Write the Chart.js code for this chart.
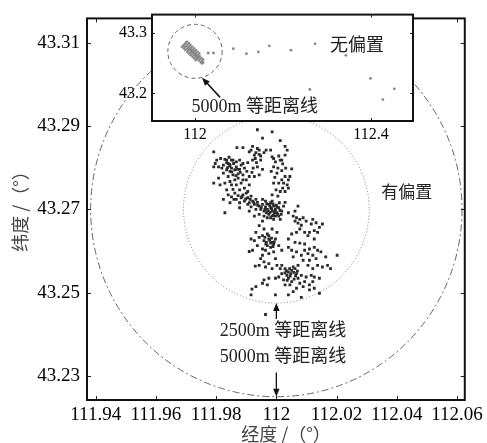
<!DOCTYPE html>
<html>
<head>
<meta charset="utf-8">
<script src="https://cdn.jsdelivr.net/npm/chart.js@4.4.0/dist/chart.umd.min.js"></script>
<style>
html, body { margin: 0; padding: 0; background: #fff; }
#wrap { position: relative; width: 487px; height: 443px; }
#main { position: absolute; left: 0; top: 0; }
#inset { position: absolute; left: 105px; top: 0; }
</style>
</head>
<body>
<div id="wrap">
  <canvas id="main" width="487" height="443"></canvas>
  <canvas id="inset" width="315" height="145"></canvas>
</div>
<script>
// tick labels
var xTickLabels = ['111.94', '111.96', '111.98', '112', '112.02', '112.04', '112.06'];
var yTickLabels = ['43.23', '43.25', '43.27', '43.29', '43.31'];
var insetXTickLabels = ['112', '112.4'];
var insetYTickLabels = ['43.2', '43.3'];

// ring centre (lon, lat) and radii in metres
var ringCenter = [112.0, 43.27];
var ringMeters = [2500, 5000];
var M_PER_DEG = 111320;

// located sources with bias correction (lon, lat)
var biasedHits = [
  [111.9937,43.2891],[111.9986,43.2886],[111.9954,43.2871],[112.0013,43.2865],[111.9889,43.2848],[111.9869,43.2848],
  [112.0029,43.2851],[112.0036,43.2842],[111.9921,43.2851],[111.9792,43.2838],[111.9910,43.2838],[111.9943,43.2842],
  [111.9959,43.2836],[111.9981,43.2842],[111.9927,43.2830],[111.9948,43.2828],[111.9991,43.2822],[112.0008,43.2828],
  [112.0029,43.2830],[112.0018,43.2818],[111.9932,43.2836],[111.9966,43.2842],
  [111.9802,43.2818],[111.9815,43.2822],[111.9829,43.2820],[111.9843,43.2825],[111.9851,43.2818],[111.9835,43.2812],
  [111.9824,43.2806],[111.9808,43.2802],[111.9792,43.2802],[111.9846,43.2804],[111.9858,43.2810],[111.9867,43.2814],
  [111.9878,43.2818],[111.9889,43.2810],[111.9905,43.2812],[111.9894,43.2799],[111.9878,43.2796],[111.9862,43.2795],
  [111.9846,43.2791],[111.9835,43.2795],[111.9824,43.2787],[111.9840,43.2779],[111.9856,43.2783],[111.9873,43.2785],
  [111.9889,43.2783],[111.9902,43.2791],[111.9910,43.2779],[111.9919,43.2789],[111.9862,43.2771],[111.9846,43.2767],
  [111.9829,43.2763],[111.9867,43.2759],[111.9883,43.2763],[111.9900,43.2771],[111.9910,43.2759],[111.9894,43.2751],
  [111.9878,43.2747],[111.9856,43.2748],[111.9792,43.2763],[111.9813,43.2759],[111.9808,43.2775],[111.9835,43.2747],
  [111.9819,43.2799],[111.9851,43.2799],[111.9867,43.2802],[111.9883,43.2806],[111.9840,43.2810],[111.9856,43.2818],
  [111.9873,43.2775],[111.9889,43.2771],[111.9851,43.2759],[111.9835,43.2818],[111.9797,43.2810],[111.9905,43.2743],
  [111.9838,43.2800],[111.9852,43.2790],[111.9866,43.2781],[111.9880,43.2789],[111.9845,43.2808],[111.9871,43.2796],
  [111.9916,43.2842],[111.9937,43.2846],[111.9943,43.2832],[111.9921,43.2818],[111.9934,43.2812],[111.9948,43.2818],
  [111.9937,43.2802],[111.9923,43.2799],[111.9954,43.2796],[111.9927,43.2779],[111.9943,43.2783],[111.9930,43.2822],
  [111.9986,43.2826],[111.9997,43.2814],[112.0013,43.2818],[112.0021,43.2809],[111.9991,43.2802],[112.0005,43.2799],
  [112.0018,43.2793],[112.0031,43.2799],[112.0051,43.2797],[112.0002,43.2787],[111.9995,43.2777],[112.0029,43.2779],
  [112.0018,43.2771],[112.0008,43.2763],[112.0040,43.2771],[112.0036,43.2759],[112.0021,43.2751],[111.9991,43.2763],
  [111.9999,43.2747],[112.0013,43.2743],[112.0029,43.2743],[112.0005,43.2732],[112.0040,43.2751],[111.9986,43.2735],
  [112.0024,43.2763],[112.0045,43.2779],[111.9983,43.2791],
  [111.9840,43.2735],[111.9851,43.2730],[111.9862,43.2739],[111.9873,43.2733],[111.9867,43.2724],[111.9883,43.2728],
  [111.9889,43.2735],[111.9900,43.2739],[111.9894,43.2720],[111.9905,43.2728],[111.9916,43.2732],[111.9910,43.2716],
  [111.9921,43.2720],[111.9927,43.2712],[111.9937,43.2717],[111.9943,43.2708],[111.9932,43.2700],[111.9948,43.2700],
  [111.9954,43.2712],[111.9964,43.2706],[111.9959,43.2696],[111.9970,43.2700],[111.9975,43.2712],[111.9981,43.2704],
  [111.9986,43.2696],[111.9991,43.2708],[111.9997,43.2700],[112.0002,43.2692],[112.0008,43.2704],[111.9975,43.2688],
  [111.9986,43.2684],[111.9970,43.2680],[111.9991,43.2676],[112.0008,43.2684],[112.0018,43.2696],[112.0024,43.2708],
  [112.0029,43.2717],[111.9964,43.2720],[111.9846,43.2716],[111.9829,43.2692],[111.9878,43.2704],[111.9910,43.2696],
  [111.9927,43.2684],[111.9943,43.2688],[111.9981,43.2716],[111.9994,43.2692],[111.9984,43.2702],[111.9967,43.2692],
  [112.0002,43.2706],[111.9905,43.2712],[111.9954,43.2724],[111.9932,43.2724],[111.9878,43.2716],[111.9859,43.2724],
  [111.9981,43.2680],[112.0013,43.2676],[111.9997,43.2684],[111.9959,43.2684],[111.9916,43.2706],[111.9824,43.2724],
  [111.9968,43.2714],[111.9978,43.2709],[111.9989,43.2713],[112.0000,43.2710],[112.0012,43.2698],[111.9995,43.2697],
  [111.9979,43.2693],[112.0004,43.2688],[111.9990,43.2686],[112.0016,43.2688],[111.9962,43.2700],[111.9973,43.2696],
  [112.0010,43.2716],[111.9986,43.2720],[111.9886,43.2731],[111.9898,43.2725],[111.9913,43.2724],[111.9925,43.2716],
  [111.9938,43.2710],[111.9950,43.2705],
  [112.0072,43.2708],[112.0040,43.2692],[112.0056,43.2684],[112.0067,43.2680],[112.0078,43.2676],[112.0062,43.2672],
  [112.0072,43.2667],[112.0083,43.2662],[112.0099,43.2672],[112.0116,43.2665],[112.0132,43.2668],[112.0153,43.2665],
  [112.0143,43.2657],[112.0126,43.2649],[112.0110,43.2645],[112.0094,43.2645],[112.0078,43.2653],[112.0067,43.2645],
  [112.0051,43.2641],[112.0105,43.2637],[112.0126,43.2629],[112.0089,43.2680],[112.0137,43.2645],[112.0121,43.2676],
  [112.0062,43.2696],
  [111.9954,43.2672],[111.9943,43.2661],[111.9959,43.2653],[111.9932,43.2645],[111.9970,43.2641],[111.9954,43.2637],
  [111.9916,43.2629],[111.9927,43.2625],[111.9943,43.2633],[111.9959,43.2625],[111.9975,43.2629],[111.9986,43.2621],
  [111.9970,43.2613],[111.9981,43.2609],[111.9991,43.2617],[111.9964,43.2602],[111.9954,43.2605],[111.9937,43.2613],
  [111.9921,43.2602],[111.9910,43.2599],[111.9975,43.2594],[111.9991,43.2598],[111.9997,43.2582],[111.9954,43.2590],
  [111.9981,43.2619],[111.9967,43.2621],[111.9975,43.2637],[111.9997,43.2629],[112.0002,43.2645],[111.9986,43.2653],
  [112.0008,43.2613],[112.0018,43.2602],[111.9962,43.2633],[111.9978,43.2626],[111.9989,43.2611],[111.9965,43.2617],
  [111.9984,43.2631],[111.9993,43.2622],
  [112.0062,43.2621],[112.0078,43.2619],[112.0094,43.2617],[112.0110,43.2605],[112.0126,43.2609],[112.0137,43.2602],
  [112.0148,43.2598],[112.0121,43.2590],[112.0105,43.2594],[112.0083,43.2590],[112.0067,43.2598],[112.0051,43.2602],
  [112.0040,43.2609],[112.0164,43.2586],[112.0202,43.2590],[112.0132,43.2582],[112.0110,43.2578],[112.0089,43.2578],
  [112.0072,43.2566],[112.0105,43.2566],[112.0121,43.2558],[112.0137,43.2566],[112.0153,43.2562],[112.0180,43.2558],
  [112.0170,43.2566],[112.0040,43.2629],[112.0056,43.2586],[112.0094,43.2602],
  [111.9948,43.2582],[111.9959,43.2574],[111.9943,43.2566],[111.9930,43.2564],[111.9964,43.2562],[111.9975,43.2570],
  [111.9986,43.2558],[112.0002,43.2566],[112.0018,43.2566],[112.0029,43.2558],[112.0040,43.2550],[112.0051,43.2554],
  [112.0056,43.2562],[112.0067,43.2546],[112.0035,43.2542],[112.0018,43.2546],[112.0008,43.2538],[112.0024,43.2531],
  [112.0040,43.2535],[112.0051,43.2527],[112.0072,43.2535],[112.0083,43.2542],[112.0099,43.2538],[112.0116,43.2542],
  [112.0126,43.2538],[112.0143,43.2535],[112.0094,43.2527],[112.0110,43.2519],[112.0089,43.2515],[112.0067,43.2511],
  [112.0056,43.2503],[112.0045,43.2519],[112.0029,43.2519],[111.9997,43.2535],[111.9975,43.2535],[111.9959,43.2531],
  [111.9954,43.2523],[111.9970,43.2519],[111.9932,43.2515],[111.9919,43.2509],[111.9916,43.2495],[111.9997,43.2495],
  [112.0040,43.2495],[112.0083,43.2489],[112.0110,43.2507],[112.0126,43.2511],[112.0143,43.2499],[111.9964,43.2448],
  [112.0048,43.2546],[112.0029,43.2548],[112.0062,43.2558],[112.0013,43.2558],[112.0078,43.2523],[112.0121,43.2527],
  [112.0033,43.2553],[112.0044,43.2558],[112.0058,43.2549],[112.0064,43.2541],[112.0046,43.2540],[112.0036,43.2530],
  [112.0059,43.2533],[112.0070,43.2552]
];

// located sources without bias correction (inset)
var unbiasedHits = [
  [111.9700,43.2776],[111.9731,43.2799],[111.9762,43.2818],[111.9789,43.2843],[111.9818,43.2862],
  [111.9742,43.2750],[111.9769,43.2771],[111.9803,43.2790],[111.9830,43.2815],[111.9861,43.2835],
  [111.9779,43.2722],[111.9811,43.2741],[111.9838,43.2766],[111.9872,43.2785],[111.9899,43.2809],
  [111.9821,43.2691],[111.9849,43.2715],[111.9882,43.2733],[111.9909,43.2759],[111.9941,43.2779],
  [111.9858,43.2665],[111.9891,43.2685],[111.9918,43.2710],[111.9951,43.2729],[111.9980,43.2753],
  [111.9901,43.2635],[111.9928,43.2659],[111.9962,43.2678],[111.9990,43.2703],[112.0019,43.2723],
  [111.9941,43.2609],[111.9970,43.2630],[112.0002,43.2650],[112.0029,43.2675],[112.0061,43.2695],
  [111.9979,43.2581],[112.0010,43.2601],[112.0038,43.2626],[112.0071,43.2645],[112.0099,43.2668],
  [112.0022,43.2551],[112.0049,43.2575],[112.0082,43.2594],[112.0110,43.2619],
  [112.0090,43.2546],[112.0118,43.2570],[112.0151,43.2589],
  [112.0131,43.2519],[112.0162,43.2538],[112.0189,43.2563],
  [112.0192,43.2516],[112.0160,43.2498],
  [111.9850,43.2748],[111.9905,43.2722],[111.9940,43.2696],[111.9985,43.2665],[112.0020,43.2640],[112.0060,43.2610]
];
var unbiasedOutliers = [
  [112.030,43.2672],[112.042,43.2672],[112.087,43.2743],[112.117,43.2660],[112.144,43.2690],[112.169,43.2790],
  [112.218,43.2720],[112.273,43.2825],[112.343,43.2634],[112.399,43.2250],[112.261,43.2066],[112.427,43.1897],
  [112.453,43.2077]
];

var SERIF = '"Liberation Serif", "Noto Sans CJK SC", serif';
var CJK = '"Noto Sans CJK SC", sans-serif';
Chart.defaults.font.family = SERIF;

function toXY(list) {
  return list.map(function (p) { return { x: p[0], y: p[1] }; });
}

function drawRing(ctx, x, y, meters, dash, color, width) {
  var dLat = meters / M_PER_DEG;
  var dLon = dLat / Math.cos(ringCenter[1] * Math.PI / 180);
  var cx = x.getPixelForValue(ringCenter[0]);
  var cy = y.getPixelForValue(ringCenter[1]);
  var rx = x.getPixelForValue(ringCenter[0] + dLon) - cx;
  var ry = cy - y.getPixelForValue(ringCenter[1] + dLat);
  ctx.save();
  ctx.strokeStyle = color;
  ctx.lineWidth = width;
  ctx.setLineDash(dash);
  ctx.beginPath();
  ctx.ellipse(cx, cy, rx, ry, 0, 0, 2 * Math.PI);
  ctx.stroke();
  ctx.restore();
}

function arrow(ctx, x0, y0, x1, y1, head) {
  var a = Math.atan2(y1 - y0, x1 - x0);
  var c = Math.cos(a), s = Math.sin(a);
  ctx.beginPath();
  ctx.moveTo(x0, y0);
  ctx.lineTo(x1 - c * head * 0.7, y1 - s * head * 0.7);
  ctx.stroke();
  ctx.beginPath();
  ctx.moveTo(x1, y1);
  ctx.lineTo(x1 - head * c + head * 0.4 * s, y1 - head * s - head * 0.4 * c);
  ctx.lineTo(x1 - head * c - head * 0.4 * s, y1 - head * s + head * 0.4 * c);
  ctx.closePath();
  ctx.fill();
}

function inwardTicks(ctx, chart, xVals, yVals, len) {
  var a = chart.chartArea, x = chart.scales.x, y = chart.scales.y;
  ctx.save();
  ctx.strokeStyle = '#222';
  ctx.lineWidth = 1;
  ctx.beginPath();
  xVals.forEach(function (v) {
    var px = Math.round(x.getPixelForValue(v)) + 0.5;
    ctx.moveTo(px, a.bottom); ctx.lineTo(px, a.bottom - len);
    ctx.moveTo(px, a.top); ctx.lineTo(px, a.top + len);
  });
  yVals.forEach(function (v) {
    var py = Math.round(y.getPixelForValue(v)) + 0.5;
    ctx.moveTo(a.left, py); ctx.lineTo(a.left + len, py);
    ctx.moveTo(a.right, py); ctx.lineTo(a.right - len, py);
  });
  ctx.stroke();
  ctx.restore();
}

var xTickVals = xTickLabels.map(parseFloat);
var yTickVals = yTickLabels.map(parseFloat);
var insetXTickVals = insetXTickLabels.map(parseFloat);
var insetYTickVals = insetYTickLabels.map(parseFloat);

var mainDecor = {
  id: 'mainDecor',
  beforeDatasetsDraw: function (chart) {
    var ctx = chart.ctx, a = chart.chartArea;
    ctx.save();
    ctx.beginPath();
    ctx.rect(a.left, a.top, a.right - a.left, a.bottom - a.top);
    ctx.clip();
    drawRing(ctx, chart.scales.x, chart.scales.y, ringMeters[0], [1, 2.2], '#777', 1);
    drawRing(ctx, chart.scales.x, chart.scales.y, ringMeters[1], [7, 3, 2, 3], '#555', 0.9);
    ctx.restore();
  },
  afterDraw: function (chart) {
    var ctx = chart.ctx, a = chart.chartArea, x = chart.scales.x, y = chart.scales.y;
    inwardTicks(ctx, chart, xTickVals, yTickVals, 4);
    ctx.save();
    ctx.strokeStyle = '#111';
    ctx.lineWidth = 2;
    ctx.strokeRect(a.left, a.top, a.right - a.left, a.bottom - a.top);

    ctx.fillStyle = '#222';
    ctx.textAlign = 'center';
    ctx.textBaseline = 'middle';
    ctx.font = '17px ' + CJK;
    ctx.fillText('有偏置', x.getPixelForValue(112.0433), y.getPixelForValue(43.2742));
    ctx.font = '18px ' + SERIF;
    ctx.fillText('2500m 等距离线', x.getPixelForValue(112.0022), y.getPixelForValue(43.2409));
    ctx.fillText('5000m 等距离线', x.getPixelForValue(112.0022), y.getPixelForValue(43.2345));

    // arrows to the rings
    ctx.strokeStyle = '#111';
    ctx.fillStyle = '#111';
    ctx.lineWidth = 1.3;
    var ax = x.getPixelForValue(ringCenter[0]);
    arrow(ctx, ax, y.getPixelForValue(43.2437), ax, y.getPixelForValue(ringCenter[1] - ringMeters[0] / M_PER_DEG), 8);
    arrow(ctx, ax, y.getPixelForValue(43.2309), ax, y.getPixelForValue(ringCenter[1] - ringMeters[1] / M_PER_DEG), 8);

    // axis titles
    ctx.fillStyle = '#444';
    ctx.font = '18px ' + CJK;
    ctx.fillText('经度 /（°）', 286, 434);
    ctx.translate(20, 207);
    ctx.rotate(-Math.PI / 2);
    ctx.fillText('纬度 /（°）', 0, 0);
    ctx.restore();
  }
};

var insetDecor = {
  id: 'insetDecor',
  beforeDraw: function (chart) {
    var ctx = chart.ctx, a = chart.chartArea;
    ctx.save();
    ctx.fillStyle = '#fff';
    ctx.fillRect(a.left, a.top, a.right - a.left, a.bottom - a.top);
    ctx.restore();
  },
  beforeDatasetsDraw: function (chart) {
    var ctx = chart.ctx, a = chart.chartArea;
    ctx.save();
    ctx.beginPath();
    ctx.rect(a.left, a.top, a.right - a.left, a.bottom - a.top);
    ctx.clip();
    drawRing(ctx, chart.scales.x, chart.scales.y, ringMeters[1], [4, 3], '#555', 0.9);
    ctx.restore();
  },
  afterDraw: function (chart) {
    var ctx = chart.ctx, a = chart.chartArea, x = chart.scales.x, y = chart.scales.y;
    inwardTicks(ctx, chart, insetXTickVals, insetYTickVals, 3);
    ctx.save();
    ctx.strokeStyle = '#111';
    ctx.lineWidth = 2;
    ctx.strokeRect(a.left, a.top, a.right - a.left, a.bottom - a.top);
    ctx.fillStyle = '#222';
    ctx.textAlign = 'center';
    ctx.textBaseline = 'middle';
    ctx.font = '18px ' + CJK;
    ctx.fillText('无偏置', x.getPixelForValue(112.368), y.getPixelForValue(43.282));
    ctx.font = '18px ' + SERIF;
    ctx.fillText('5000m 等距离线', x.getPixelForValue(112.136), y.getPixelForValue(43.177));
    ctx.strokeStyle = '#111';
    ctx.fillStyle = '#111';
    ctx.lineWidth = 1.5;
    arrow(ctx, x.getPixelForValue(112.057), y.getPixelForValue(43.1934),
          x.getPixelForValue(112.016), y.getPixelForValue(43.2262), 8);
    ctx.restore();
  }
};

function tickSetter(vals) {
  return function (scale) {
    scale.ticks = vals.map(function (v) { return { value: v }; });
  };
}

new Chart(document.getElementById('main').getContext('2d'), {
  type: 'scatter',
  data: {
    datasets: [{
      data: toXY(biasedHits),
      pointStyle: 'rect',
      pointRadius: 2,
      backgroundColor: '#2b2b2b',
      borderWidth: 0
    }]
  },
  options: {
    responsive: false,
    devicePixelRatio: 1,
    animation: false,
    events: [],
    layout: { padding: { top: 13, right: 13, left: 0, bottom: 0 } },
    plugins: { legend: { display: false }, tooltip: { enabled: false } },
    scales: {
      x: {
        type: 'linear',
        min: 111.9371,
        max: 112.0626,
        afterBuildTicks: tickSetter(xTickVals),
        afterFit: function (s) { s.height = 43; },
        grid: { display: false, drawTicks: false },
        border: { display: false },
        ticks: {
          padding: 4,
          color: '#000',
          font: { family: SERIF, size: 19 },
          maxRotation: 0,
          autoSkip: false,
          callback: function (v, i) { return xTickLabels[i]; }
        }
      },
      y: {
        type: 'linear',
        min: 43.2243,
        max: 43.3158,
        afterBuildTicks: tickSetter(yTickVals),
        afterFit: function (s) { s.width = 87; },
        grid: { display: false, drawTicks: false },
        border: { display: false },
        ticks: {
          padding: 7,
          color: '#000',
          font: { family: SERIF, size: 19 },
          autoSkip: false,
          callback: function (v, i) { return yTickLabels[i]; }
        }
      }
    }
  },
  plugins: [mainDecor]
});

new Chart(document.getElementById('inset').getContext('2d'), {
  type: 'scatter',
  data: {
    datasets: [{
      data: toXY(unbiasedHits),
      pointRadius: 1.2,
      backgroundColor: '#858585',
      borderWidth: 0
    }, {
      data: toXY(unbiasedOutliers),
      pointRadius: 1.4,
      backgroundColor: '#888',
      borderWidth: 0
    }]
  },
  options: {
    responsive: false,
    devicePixelRatio: 1,
    animation: false,
    events: [],
    layout: { padding: { top: 13, right: 7, left: 0, bottom: 0 } },
    plugins: { legend: { display: false }, tooltip: { enabled: false } },
    scales: {
      x: {
        type: 'linear',
        min: 111.9023,
        max: 112.4955,
        afterBuildTicks: tickSetter(insetXTickVals),
        afterFit: function (s) { s.height = 24; },
        grid: { display: false, drawTicks: false },
        border: { display: false },
        ticks: {
          padding: 4,
          color: '#000',
          font: { family: SERIF, size: 16 },
          maxRotation: 0,
          autoSkip: false,
          callback: function (v, i) { return insetXTickLabels[i]; }
        }
      },
      y: {
        type: 'linear',
        min: 43.1541,
        max: 43.3311,
        afterBuildTicks: tickSetter(insetYTickVals),
        afterFit: function (s) { s.width = 47; },
        grid: { display: false, drawTicks: false },
        border: { display: false },
        ticks: {
          padding: 5,
          color: '#000',
          font: { family: SERIF, size: 16 },
          autoSkip: false,
          callback: function (v, i) { return insetYTickLabels[i]; }
        }
      }
    }
  },
  plugins: [insetDecor]
});
</script>
</body>
</html>
